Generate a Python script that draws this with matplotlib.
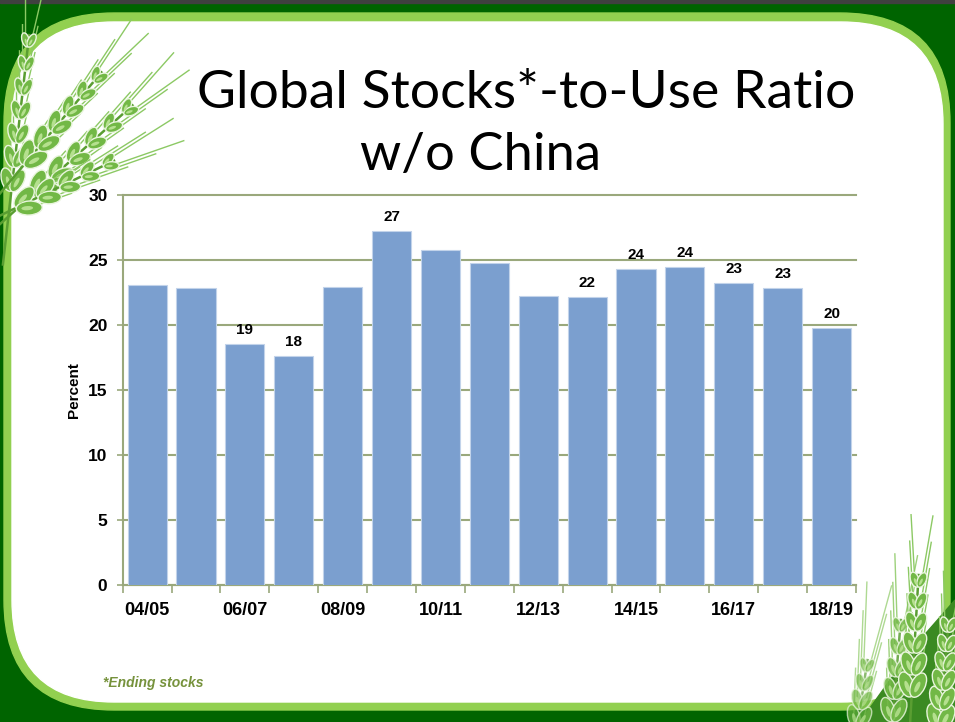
import matplotlib
matplotlib.use('Agg')
import matplotlib.pyplot as plt
from matplotlib.patches import FancyBboxPatch, Rectangle, Ellipse, Polygon
import numpy as np

# ---------------- data ----------------
seasons = ['04/05', '05/06', '06/07', '07/08', '08/09', '09/10', '10/11', '11/12',
           '12/13', '13/14', '14/15', '15/16', '16/17', '17/18', '18/19']
ratios = [23.05, 22.87, 18.54, 17.6, 22.95, 27.23, 25.77, 24.8,
          22.26, 22.13, 24.3, 24.46, 23.2, 22.82, 19.74]
bar_labels = ['', '', '19', '18', '', '27', '', '', '', '22', '24', '24', '23', '23', '20']
tick_labels = ['04/05', '', '06/07', '', '08/09', '', '10/11', '', '12/13', '',
               '14/15', '', '16/17', '', '18/19']
y_ticks = [0, 5, 10, 15, 20, 25, 30]

W, H = 955, 722
fig = plt.figure(figsize=(W / 100, H / 100), dpi=100)

# ---------------- slide background ----------------
bg = fig.add_axes([0, 0, 1, 1])
bg.set_xlim(0, W)
bg.set_ylim(H, 0)
bg.axis('off')
DARK = '#006400'
LIGHT = '#92d050'
bg.add_patch(Rectangle((0, 0), W, H, color=DARK, zorder=0))
bg.add_patch(Rectangle((0, 0), W, 2.5, color='#404040', zorder=0.5))
bg.add_patch(FancyBboxPatch((4, 13), 946, 697, boxstyle='round,pad=0,rounding_size=110',
                            color=LIGHT, zorder=1))
bg.add_patch(FancyBboxPatch((12, 22), 931, 680, boxstyle='round,pad=0,rounding_size=102',
                            color='white', zorder=2))


def ear(x0, y0, x1, y1, n=7, gw=13, gl=26, awn=60, col='#72b846', hl='#b5e08e', z=3, alpha=1.0):
    p0 = np.array([x0, y0], float)
    p1 = np.array([x1, y1], float)
    d = p1 - p0
    L = np.hypot(*d)
    u = d / L
    nrm = np.array([-u[1], u[0]])
    bg.plot([x0 - u[0] * 80, x1 + u[0] * 10], [y0 - u[1] * 80, y1 + u[1] * 10],
            color='#5a9e32', lw=1.8, zorder=z, alpha=alpha)
    base_ang = np.degrees(np.arctan2(u[1], u[0]))
    for i in range(n):
        t = i / (n - 1)
        c = p0 + d * t
        for s in (-1, 1):
            sc = 1 - 0.4 * t
            off = c + nrm * s * gw * 0.42 * sc + u * gl * 0.2
            ang = base_ang + s * 22
            a = np.radians(ang)
            adir = np.array([np.cos(a), np.sin(a)])
            tip = off + (adir * 0.3 + u * 0.7) * awn * (0.7 + 0.5 * t)
            bg.plot([off[0], tip[0]], [off[1], tip[1]], color='#8cc964', lw=1.0, zorder=z, alpha=alpha)
            bg.add_patch(Ellipse(off, gl * sc, gw * sc, angle=ang,
                                 facecolor=col, edgecolor='#e9f5dd', lw=1.0, zorder=z + 0.1, alpha=alpha))
            bg.add_patch(Ellipse(off - adir * 2, gl * 0.45 * sc, gw * 0.3 * sc, angle=ang,
                                 facecolor=hl, edgecolor='none', zorder=z + 0.2, alpha=alpha))


# top-left wheat
ear(12, 185, 28, 45, n=7, gw=12, gl=24, awn=35, z=3)
ear(28, 160, 95, 80, n=6, gw=14, gl=26, awn=55, z=3.5)
ear(38, 190, 125, 112, n=6, gw=14, gl=26, awn=60, z=4)
ear(22, 205, 105, 165, n=5, gw=14, gl=26, awn=65, z=4.5)

# bottom-right wheat
bg.add_patch(Polygon([[860, 722], [890, 680], [920, 640], [955, 600], [955, 722]],
                     color='#3b8a22', zorder=3))
ear(858, 722, 866, 670, n=4, gw=12, gl=24, awn=70, z=4.1, alpha=0.7)
ear(893, 715, 900, 630, n=5, gw=13, gl=25, awn=60, z=4.2, alpha=0.85)
ear(912, 690, 918, 585, n=6, gw=14, gl=26, awn=55, z=4.4)
ear(940, 722, 948, 630, n=6, gw=14, gl=26, awn=45, z=4.3)

# ---------------- title and note ----------------
bg.text(197, 108, 'Global Stocks*-to-Use Ratio', fontsize=38.5, family='Lato',
        ha='left', va='baseline', color='black', zorder=6)
bg.text(360, 170, 'w/o China', fontsize=37.8, family='Lato',
        ha='left', va='baseline', color='black', zorder=6)
bg.text(103, 687, '*Ending stocks', fontsize=10, fontweight='bold', fontstyle='italic',
        family=['Liberation Sans Narrow', 'Liberation Sans'], color='#76923c',
        ha='left', va='baseline', zorder=6)

# ---------------- chart ----------------
ax = fig.add_axes([122.7 / W, (H - 585) / H, 733.3 / W, 390 / H])
ax.patch.set_alpha(0)
GRID = '#9aa87c'
x = np.arange(len(seasons))
ax.bar(x, ratios, width=0.8, color='#7b9fcf', edgecolor='#c2d3ea', linewidth=0.8, zorder=3)
for xi, v, lbl in zip(x, ratios, bar_labels):
    if lbl:
        ax.text(xi, v + 0.55, lbl, ha='center', va='bottom', fontsize=11, fontweight='bold',
                family='Liberation Sans', zorder=4)

ax.set_xlim(-0.5, len(seasons) - 0.5)
ax.set_ylim(0, 30)
ax.set_yticks(y_ticks)
ax.set_yticklabels([str(t) for t in y_ticks], fontsize=12.5, fontweight='bold', family='Liberation Sans')
ax.yaxis.grid(True, color=GRID, lw=1.5, zorder=0)
ax.set_axisbelow(True)
for gl_ in ax.get_ygridlines():
    gl_.set_clip_on(False)
for s in ('top', 'right'):
    ax.spines[s].set_visible(False)
for s in ('left', 'bottom'):
    ax.spines[s].set_color(GRID)
    ax.spines[s].set_linewidth(1.5)
ax.tick_params(axis='y', length=4, color=GRID, width=1.2, pad=7)

ax.set_xticks(x)
ax.set_xticklabels(tick_labels, fontsize=13, fontweight='bold',
                   family=['Liberation Sans Narrow', 'Liberation Sans'])
ax.set_xticks(np.arange(-0.5, len(seasons), 1.0), minor=True)
ax.tick_params(axis='x', which='major', length=0, pad=12)
ax.tick_params(axis='x', which='minor', length=6, color=GRID, width=1.2)
ax.set_ylabel('Percent', fontsize=11, fontweight='bold', family='Liberation Sans', labelpad=5)

fig.savefig('out.png', dpi=100)
